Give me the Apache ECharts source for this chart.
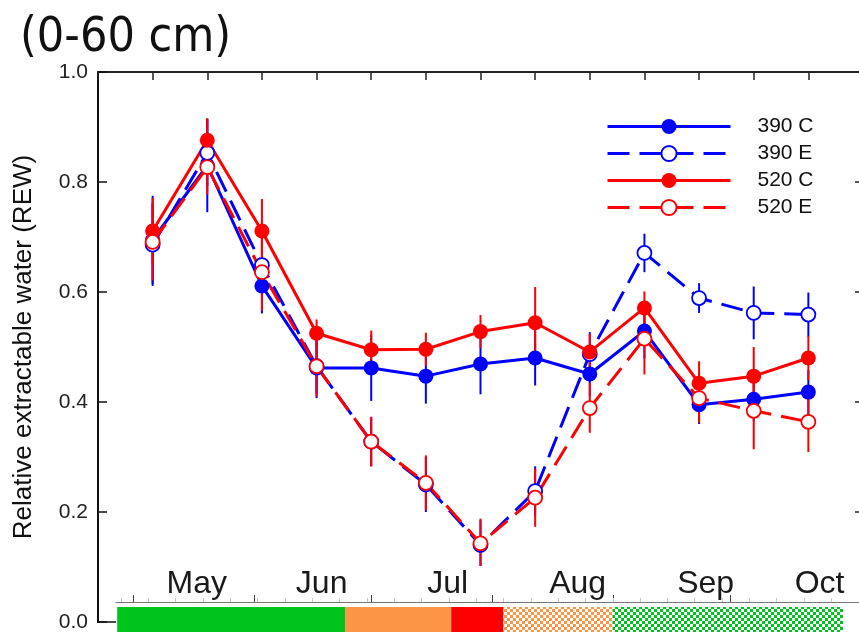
<!DOCTYPE html>
<html>
<head>
<meta charset="utf-8">
<script src="https://cdn.jsdelivr.net/npm/echarts@6/dist/echarts.min.js"></script>
<style>
  html, body { margin: 0; padding: 0; background: #fff; }
  #chart { width: 859px; height: 632px; }
</style>
</head>
<body>
<div id="chart"></div>
<script>
// Sampling dates, numbered in season order (roughly fortnightly, May to October)
const sampleIndex = [1, 2, 3, 4, 5, 6, 7, 8, 9, 10, 11, 12, 13];

// Relative extractable water, 0-60 cm, with standard errors
const rew390C = [0.695, 0.830, 0.611, 0.462, 0.462, 0.447, 0.469, 0.480, 0.451, 0.529, 0.395, 0.405, 0.418];
const err390C = [0.080, 0.085, 0.050, 0.055, 0.060, 0.050, 0.055, 0.050, 0.040, 0.050, 0.035, 0.040, 0.040];

const rew390E = [0.686, 0.853, 0.649, 0.465, 0.328, 0.250, 0.140, 0.238, 0.487, 0.671, 0.589, 0.562, 0.559];
const err390E = [0.075, 0.060, 0.050, 0.050, 0.045, 0.050, 0.045, 0.045, 0.040, 0.035, 0.027, 0.048, 0.040];

const rew520C = [0.711, 0.876, 0.711, 0.525, 0.495, 0.496, 0.528, 0.544, 0.491, 0.571, 0.434, 0.447, 0.480];
const err520C = [0.060, 0.040, 0.058, 0.025, 0.035, 0.030, 0.030, 0.065, 0.033, 0.030, 0.040, 0.053, 0.040];

const rew520E = [0.691, 0.827, 0.636, 0.465, 0.328, 0.253, 0.143, 0.226, 0.389, 0.515, 0.407, 0.384, 0.364];
const err520E = [0.070, 0.050, 0.070, 0.055, 0.045, 0.050, 0.045, 0.053, 0.045, 0.065, 0.045, 0.070, 0.055];

// Season strip below the curves (day of year)
const monthNames = ['May', 'Jun', 'Jul', 'Aug', 'Sep', 'Oct'];
const monthLabelDay = [137.4, 169.4, 201.7, 235.0, 267.8, 297.0];
const monthStartDay = [121, 152, 182, 213, 244, 274];
const phaseStart = [117, 175.4, 202.6, 216, 244];
const phaseEnd   = [175.4, 202.6, 216, 244, 303];
const phaseKind  = ['green', 'orange', 'red', 'orangeChecker', 'greenChecker'];

const BLUE = '#0000ff';
const RED = '#ff0000';

function checker(base) {
  const c = document.createElement('canvas');
  c.width = 6; c.height = 6;
  const g = c.getContext('2d');
  g.fillStyle = base; g.fillRect(0, 0, 6, 6);
  g.fillStyle = '#ffffff';
  g.fillRect(0, 0, 3, 3);
  g.fillRect(3, 3, 3, 3);
  return { image: c, repeat: 'repeat' };
}
const phaseFill = {
  green: '#00c41e',
  orange: '#fa9646',
  red: '#ff0000',
  orangeChecker: checker('#fa9646'),
  greenChecker: checker('#00c41e')
};

const zip = (xs, ys) => xs.map((x, i) => [x, ys[i]]);
const zip3 = (xs, ys, es) => xs.map((x, i) => [x, ys[i], es[i]]);

function lineSeries(name, values, color, open) {
  return {
    name, type: 'line', xAxisIndex: 0, yAxisIndex: 0,
    data: zip(sampleIndex, values),
    symbol: 'circle',
    symbolSize: open ? 14 : 15,
    showAllSymbol: true,
    z: 3,
    lineStyle: { color, width: 3, type: open ? [22, 10] : 'solid' },
    itemStyle: open
      ? { color: '#ffffff', borderColor: color, borderWidth: 1.8 }
      : { color, borderColor: color, borderWidth: 0 },
    emphasis: { disabled: true },
    animation: false
  };
}

function errorSeries(values, errs, color) {
  return {
    type: 'custom', xAxisIndex: 0, yAxisIndex: 0,
    data: zip3(sampleIndex, values, errs),
    itemStyle: { color },
    z: 2,
    silent: true,
    animation: false,
    renderItem(params, api) {
      const x = api.value(0), m = api.value(1), e = api.value(2);
      const top = api.coord([x, m + e]);
      const bot = api.coord([x, m - e]);
      return {
        type: 'line',
        shape: { x1: top[0], y1: top[1], x2: bot[0], y2: bot[1] },
        style: { stroke: color, lineWidth: 2 }
      };
    }
  };
}

const weekTicks = [];
for (let d = 118; d <= 303; d += 7) weekTicks.push(d);

const chart = echarts.init(document.getElementById('chart'), null, { renderer: 'canvas' });

chart.setOption({
  animation: false,
  backgroundColor: '#ffffff',
  title: {
    text: '(0-60 cm)',
    left: 20, top: 15, padding: 0,
    textStyle: {
      fontFamily: "'DejaVu Sans Condensed', 'DejaVu Sans', sans-serif",
      fontSize: 48, fontWeight: 'normal', color: '#111', lineHeight: 48
    }
  },
  legend: {
    data: ['390 C', '390 E', '520 C', '520 E'],
    orient: 'vertical',
    left: 601, top: 111,
    itemWidth: 123, itemHeight: 19, itemGap: 6,
    selectedMode: false,
    lineStyle: { width: 3 },
    textStyle: {
      fontFamily: "'Liberation Sans', Arial, sans-serif",
      fontSize: 21, color: '#111',
      padding: [0, 0, 0, 22]
    }
  },
  grid: [
    { left: 98, right: -4, top: 72, bottom: 10, outerBoundsMode: 'none', containLabel: false },
    { left: 116, right: 0, top: 566, bottom: 0, outerBoundsMode: 'none', containLabel: false,
      show: true, backgroundColor: '#ffffff', borderWidth: 0, z: 5 }
  ],
  xAxis: [
    { // bottom frame of the plot
      gridIndex: 0, type: 'value', min: 0, max: 14, position: 'bottom',
      axisLine: { show: true, onZero: false, lineStyle: { color: '#111', width: 1.5 } },
      axisTick: { show: false }, axisLabel: { show: false }, splitLine: { show: false }
    },
    { // top frame with a tick at each sampling date
      gridIndex: 0, type: 'value', min: 0, max: 14, interval: 1, position: 'top',
      axisLine: { show: true, onZero: false, lineStyle: { color: '#222', width: 2 } },
      axisTick: { show: true, inside: true, length: 8, lineStyle: { color: '#222', width: 1.5 } },
      axisLabel: { show: false }, splitLine: { show: false }
    },
    { // month axis of the season strip
      gridIndex: 1, type: 'value', min: 116.7, max: 307.1, position: 'bottom', offset: -30, z: 6,
      axisLine: { show: true, onZero: false, lineStyle: { color: '#777', width: 1 } },
      axisTick: { show: true, inside: true, length: 7, customValues: monthStartDay, lineStyle: { color: '#444', width: 1 } },
      axisLabel: {
        show: true, inside: true, margin: 2,
        customValues: monthLabelDay,
        formatter: (v) => monthNames[monthLabelDay.indexOf(v)] || '',
        fontFamily: "'Liberation Sans', Arial, sans-serif",
        fontSize: 32, color: '#1a1a1a', lineHeight: 32, verticalAlign: 'bottom'
      },
      splitLine: { show: false }
    },
    { // weekly minor ticks of the season strip
      gridIndex: 1, type: 'value', min: 116.7, max: 307.1, position: 'bottom', offset: -30, z: 6,
      axisLine: { show: false, onZero: false },
      axisTick: { show: true, inside: true, length: 4, customValues: weekTicks, lineStyle: { color: '#c8c8c8', width: 1 } },
      axisLabel: { show: false }, splitLine: { show: false }
    }
  ],
  yAxis: [
    {
      gridIndex: 0, type: 'value', min: 0, max: 1, interval: 0.2, position: 'left',
      name: 'Relative extractable water (REW)',
      nameLocation: 'middle', nameRotate: 90, nameGap: 61,
      nameTextStyle: { fontFamily: "'Liberation Sans', Arial, sans-serif", fontSize: 26, color: '#111' },
      axisLine: { show: true, onZero: false, lineStyle: { color: '#111', width: 2 } },
      axisTick: { show: true, inside: true, length: 9, lineStyle: { color: '#111', width: 1.5 } },
      axisLabel: {
        margin: 10,
        formatter: (v) => v.toFixed(1),
        fontFamily: "'Liberation Sans', Arial, sans-serif", fontSize: 21, color: '#222'
      },
      splitLine: { show: false }
    },
    {
      gridIndex: 0, type: 'value', min: 0, max: 1, interval: 0.2, position: 'right',
      axisLine: { show: true, onZero: false, lineStyle: { color: '#111', width: 2 } },
      axisTick: { show: true, inside: true, length: 8, lineStyle: { color: '#222', width: 1.5 } },
      axisLabel: { show: false }, splitLine: { show: false }
    },
    {
      gridIndex: 1, type: 'value', min: 0, max: 66, show: false
    }
  ],
  series: [
    errorSeries(rew390C, err390C, BLUE),
    errorSeries(rew390E, err390E, BLUE),
    errorSeries(rew520C, err520C, RED),
    errorSeries(rew520E, err520E, RED),
    lineSeries('390 C', rew390C, BLUE, false),
    lineSeries('390 E', rew390E, BLUE, true),
    lineSeries('520 C', rew520C, RED, false),
    lineSeries('520 E', rew520E, RED, true),
    {
      type: 'custom', xAxisIndex: 2, yAxisIndex: 2,
      data: phaseStart.map((s, i) => [s, phaseEnd[i], i]),
      z: 6, silent: true, animation: false,
      renderItem(params, api) {
        const a = api.coord([api.value(0), 25]);
        const b = api.coord([api.value(1), 0]);
        return {
          type: 'rect',
          shape: { x: a[0], y: a[1], width: b[0] - a[0], height: b[1] - a[1] },
          style: { fill: phaseFill[phaseKind[api.value(2)]] }
        };
      }
    }
  ]
});
</script>
</body>
</html>
